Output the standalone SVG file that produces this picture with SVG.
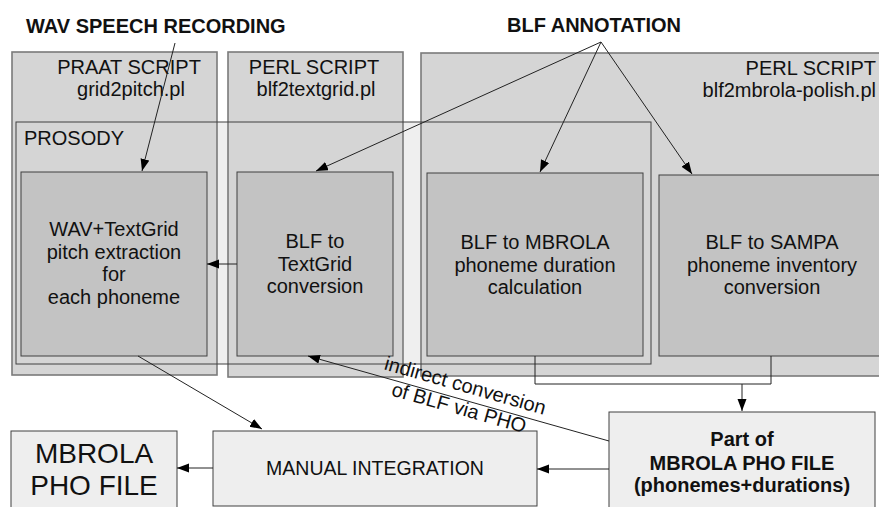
<svg xmlns="http://www.w3.org/2000/svg" width="879" height="507" viewBox="0 0 879 507">
<style>
text{font-family:"Liberation Sans",Arial,sans-serif;fill:#111}
.t20{font-size:20px}
.b20{font-size:20px;font-weight:bold}
.mid{text-anchor:middle}
.script{fill:#d5d5d5;stroke:#7a7a7a;stroke-width:1.6}
.inner{fill:#c3c3c3;stroke:#404040;stroke-width:1}
.out{fill:#eeeeee;stroke:#404040;stroke-width:1}
.con{fill:none;stroke:#222;stroke-width:1}
</style>
<defs>
<marker id="ah" markerUnits="userSpaceOnUse" markerWidth="13" markerHeight="10" refX="12" refY="4.5" orient="auto">
<path d="M0,0 L12,4.5 L0,9 z" fill="#000"/>
</marker>
</defs>
<rect width="879" height="507" fill="#fff"/>
<g id="prosody-bg"><rect x="16" y="122" width="635" height="242" fill="#efefef"/></g>
<g id="script-praat">
<rect class="script" x="12" y="52" width="205" height="323"/>
<text class="t20 mid" x="129" y="74">PRAAT SCRIPT</text>
<text class="t20 mid" x="131" y="96">grid2pitch.pl</text>
</g>
<g id="script-blf2textgrid">
<rect class="script" x="228" y="52" width="175" height="325"/>
<text class="t20 mid" x="314" y="74">PERL SCRIPT</text>
<text class="t20 mid" x="316" y="96">blf2textgrid.pl</text>
</g>
<g id="script-blf2mbrola">
<rect class="script" x="421" y="53" width="470" height="323"/>
<text class="t20" x="876" y="75" text-anchor="end">PERL SCRIPT</text>
<text class="t20" x="876" y="97" text-anchor="end">blf2mbrola-polish.pl</text>
</g>
<g id="prosody">
<rect x="16" y="122" width="635" height="242" fill="none" stroke="#404040" stroke-width="1"/>
<text class="t20" x="24" y="145">PROSODY</text>
</g>
<g id="pitch-extraction">
<rect class="inner" x="21" y="172" width="186" height="184"/>
<text class="t20 mid" x="114" y="236">WAV+TextGrid</text>
<text class="t20 mid" x="114" y="258.5">pitch extraction</text>
<text class="t20 mid" x="114" y="281">for</text>
<text class="t20 mid" x="114" y="303.5">each phoneme</text>
</g>
<g id="blf-textgrid">
<rect class="inner" x="237" y="172" width="156" height="184"/>
<text class="t20 mid" x="315" y="248">BLF to</text>
<text class="t20 mid" x="315" y="270.5">TextGrid</text>
<text class="t20 mid" x="315" y="293">conversion</text>
</g>
<g id="blf-mbrola">
<rect class="inner" x="427" y="173" width="216" height="183"/>
<text class="t20 mid" x="535" y="249">BLF to MBROLA</text>
<text class="t20 mid" x="535" y="271.5">phoneme duration</text>
<text class="t20 mid" x="535" y="294">calculation</text>
</g>
<g id="blf-sampa">
<rect class="inner" x="659" y="175" width="230" height="181"/>
<text class="t20 mid" x="772" y="249">BLF to SAMPA</text>
<text class="t20 mid" x="772" y="271.5">phoneme inventory</text>
<text class="t20 mid" x="772" y="294">conversion</text>
</g>
<g id="wav-recording"><text class="b20" x="26" y="33">WAV SPEECH RECORDING</text></g>
<g id="blf-annotation"><text class="b20" x="507" y="32">BLF ANNOTATION</text></g>
<g id="mbrola-pho-file">
<rect class="out" x="11" y="431" width="166" height="90"/>
<text class="mid" style="font-size:28px" x="94" y="463">MBROLA</text>
<text class="mid" style="font-size:28px" x="94" y="495">PHO FILE</text>
</g>
<g id="manual-integration">
<rect class="out" x="213" y="431" width="324" height="75"/>
<text class="mid" style="font-size:19.5px" x="375" y="475">MANUAL INTEGRATION</text>
</g>
<g id="part-pho">
<rect class="out" x="609" y="412" width="266" height="110"/>
<text class="b20 mid" x="742" y="446">Part of</text>
<text class="b20 mid" x="742" y="470">MBROLA PHO FILE</text>
<text class="b20 mid" x="742" y="492">(phonemes+durations)</text>
</g>
<g id="connectors">
<line class="con" x1="175" y1="43" x2="142" y2="171" marker-end="url(#ah)"/>
<line class="con" x1="601" y1="42" x2="316" y2="171" marker-end="url(#ah)"/>
<line class="con" x1="601" y1="42" x2="540" y2="172" marker-end="url(#ah)"/>
<line class="con" x1="601" y1="42" x2="692" y2="174" marker-end="url(#ah)"/>
<line class="con" x1="237" y1="264" x2="207" y2="264" marker-end="url(#ah)"/>
<polyline class="con" points="535,356 535,384 771,384 771,356"/>
<line class="con" x1="742" y1="384" x2="742" y2="411" marker-end="url(#ah)"/>
<line class="con" x1="609" y1="469" x2="537" y2="469" marker-end="url(#ah)"/>
<line class="con" x1="213" y1="468" x2="177" y2="468" marker-end="url(#ah)"/>
<line class="con" x1="138" y1="356" x2="262" y2="429" marker-end="url(#ah)"/>
<line class="con" x1="609" y1="441" x2="308" y2="356" marker-end="url(#ah)"/>
<g transform="rotate(15.8 463.5 392)">
<text class="t20 mid" x="463.5" y="392">indirect conversion</text>
<text class="t20 mid" x="463.5" y="415">of BLF via PHO</text>
</g>
</g>
</svg>
